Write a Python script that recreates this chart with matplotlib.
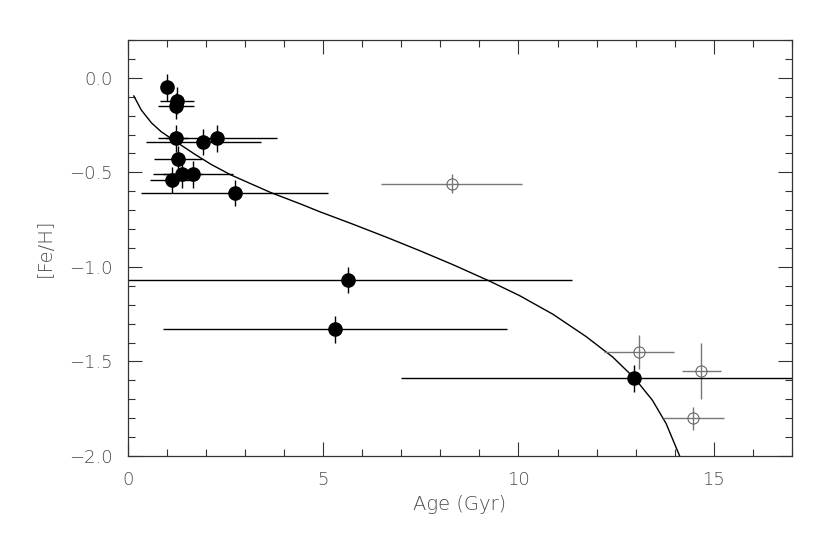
import numpy as np
import matplotlib
matplotlib.use('Agg')
import matplotlib.pyplot as plt
from matplotlib.ticker import MultipleLocator

# filled symbols: age, [Fe/H], age error, [Fe/H] error
age_filled = [1.01, 1.25, 1.22, 1.24, 1.93, 2.29, 1.28, 1.39, 1.66, 1.13, 2.73, 5.63, 5.30, 12.97]
feh_filled = [-0.05, -0.12, -0.15, -0.32, -0.34, -0.32, -0.43, -0.51, -0.51, -0.54, -0.61, -1.07, -1.33, -1.59]
age_err_filled = [0.15, 0.44, 0.46, 0.30, 1.47, 1.53, 0.62, 0.50, 1.03, 0.56, 2.40, 5.75, 4.41, 5.97]
feh_err_filled = [0.07, 0.07, 0.07, 0.07, 0.07, 0.07, 0.07, 0.07, 0.07, 0.07, 0.07, 0.07, 0.07, 0.07]

# open symbols
age_open = [8.29, 13.08, 14.68, 14.48]
feh_open = [-0.56, -1.45, -1.55, -1.80]
age_err_open = [1.80, 0.90, 0.50, 0.79]
feh_err_open = [0.05, 0.09, 0.15, 0.06]

# model curve
curve_age = [0.15, 0.34, 0.60, 0.85, 1.28, 1.71, 2.13, 2.64, 3.66, 4.43, 4.91, 5.76, 6.62, 7.47,
             8.32, 9.26, 10.03, 10.88, 11.73, 12.41, 12.98, 13.43, 13.78, 14.12, 14.20]
curve_feh = [-0.096, -0.17, -0.238, -0.285, -0.345, -0.404, -0.458, -0.514, -0.607, -0.668, -0.708,
             -0.774, -0.843, -0.914, -0.988, -1.075, -1.152, -1.250, -1.368, -1.476, -1.59, -1.705,
             -1.828, -1.996, -2.04]

txt = '#4a4a4a'
plt.rcParams['font.family'] = ['DejaVu Sans']

fig = plt.figure(figsize=(8.3, 5.37), dpi=100)
ax = fig.add_axes([0.1542, 0.1508, 0.7998, 0.7747])

ax.plot(curve_age, curve_feh, color='black', lw=1.0)

ax.errorbar(age_open, feh_open, xerr=age_err_open, yerr=feh_err_open, fmt='o',
            mfc='none', mec='#666666', ms=8, mew=0.8, ecolor='#777777', elinewidth=1.0, capsize=0)
ax.errorbar(age_filled, feh_filled, xerr=age_err_filled, yerr=feh_err_filled, fmt='o',
            color='black', ms=9.5, ecolor='black', elinewidth=1.0, capsize=0)

ax.set_xlim(0, 17)
ax.set_ylim(-2.0, 0.2)
ax.xaxis.set_major_locator(MultipleLocator(5))
ax.xaxis.set_minor_locator(MultipleLocator(1))
ax.yaxis.set_major_locator(MultipleLocator(0.5))
ax.yaxis.set_minor_locator(MultipleLocator(0.1))
ax.xaxis.set_major_formatter(plt.FuncFormatter(lambda v, p: '%d' % v))
ax.yaxis.set_major_formatter(plt.FuncFormatter(lambda v, p: ('%.1f' % v).replace('-', '\u2212')))

ax.tick_params(which='both', direction='in', top=True, right=True, color='#333333', width=0.8,
               labelsize=13, labelcolor=txt)
ax.tick_params(which='major', length=10, pad=11)
ax.tick_params(which='minor', length=5)
for lab in ax.get_xticklabels() + ax.get_yticklabels():
    lab.set_fontweight('light')
for s in ax.spines.values():
    s.set_color('#333333')
    s.set_linewidth(0.9)

ax.set_xlabel('Age (Gyr)', fontsize=14, color=txt, labelpad=4, fontweight='light')
ax.set_ylabel('[Fe/H]', fontsize=14, color=txt, labelpad=10, fontweight='light')

fig.savefig('out.png', dpi=100)
